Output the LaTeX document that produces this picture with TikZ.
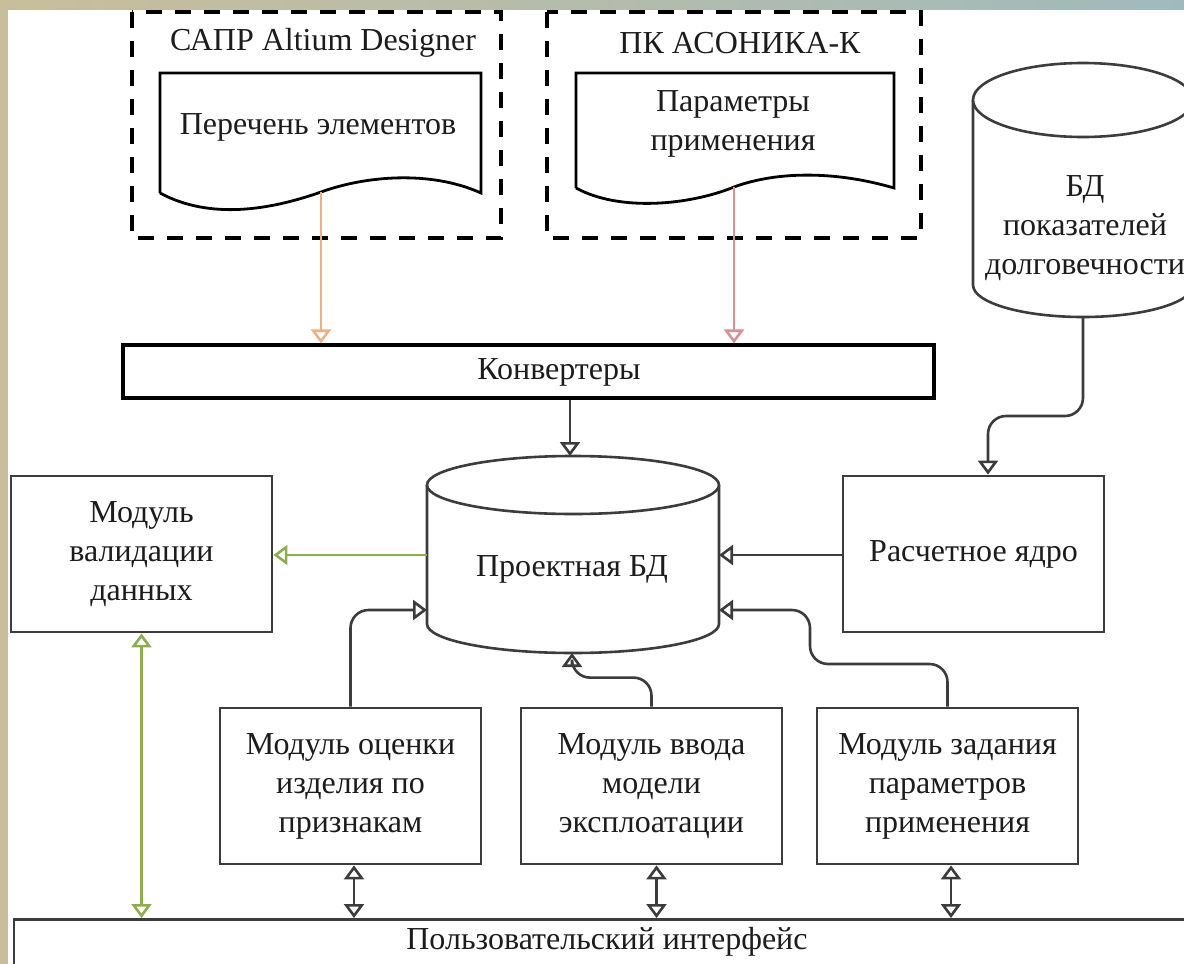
\documentclass[tikz,border=0pt]{standalone}
\usepackage{fontspec}
\setmainfont{Liberation Serif}
\usepackage{xcolor}
\usetikzlibrary{arrows.meta,positioning,calc}

\definecolor{linegray}{RGB}{60,60,60}
\definecolor{txtgray}{RGB}{28,28,28}
\definecolor{orangeln}{RGB}{236,176,134}
\definecolor{pinkln}{RGB}{212,146,146}
\definecolor{greenln}{RGB}{140,174,80}
\definecolor{bgleft}{RGB}{200,190,156}
\definecolor{bgright}{RGB}{160,186,188}

\begin{document}
\begin{tikzpicture}[x=0.5pt,y=-0.5pt,
	every node/.style={font=\fontsize{16}{19.5}\selectfont, text=txtgray, align=center, inner sep=0pt},
	box/.style={draw=linegray, line width=1.4pt, fill=white, minimum width=130.5pt, minimum height=78pt},
	dashbox/.style={draw=black, line width=1.6pt, dash pattern=on 8pt off 6.5pt},
	docshape/.style={draw=black, line width=1.4pt, fill=white},
	cylshape/.style={draw=linegray, line width=1.3pt, fill=white},
	link/.style={draw=linegray, line width=1.3pt, -{Triangle[open,length=7pt,width=10pt]}},
	dlink/.style={link, {Triangle[open,length=7pt,width=10pt]}-{Triangle[open,length=7pt,width=10pt]}}]
	\useasboundingbox (0,0) rectangle (1184,964);
	\clip (0,0) rectangle (1184,964);
	\shade[left color=bgleft, right color=bgright] (0,0) rectangle (1184,964);
	\fill[white] (8,10) rectangle (1184,964);
	% source systems
	\draw[dashbox] (132,12) rectangle (501,238);
	\draw[dashbox] (547,12) rectangle (921,238);
	\node (sapr) at (323,43) {САПР Altium Designer};
	\node (asonika) at (740,43) {ПК АСОНИКА-К};
	\draw[docshape] (160,193) -- (160,73) -- (481,73) -- (481,193) .. controls (430,170) and (365,176) .. (321,192) .. controls (270,210) and (210,220) .. (160,193);
	\draw[docshape] (576,188) -- (576,73) -- (894,73) -- (894,188) .. controls (840,172) and (780,170) .. (734,187) .. controls (690,205) and (620,212) .. (576,188);
	\coordinate (waveA) at (321,192);
	\coordinate (waveB) at (734,187);
	\node (perech) at (318,127) {Перечень элементов};
	\node (params) at (733,124) {Параметры\\применения};
	% databases
	\draw[cylshape] (973,100) -- (973,285) arc (180:0:110 and 32) -- (1193,100);
	\draw[cylshape] (1083,100) ellipse (110 and 37);
	\node (bdpok) at (1085,228) {БД\\показателей\\долговечности};
	\coordinate (bdbot) at (1083,317);
	\draw[cylshape] (427,485) -- (427,624) arc (180:0:146 and 29) -- (719,485);
	\draw[cylshape] (573,485) ellipse (146 and 29);
	\node (pbd) at (572,569) {Проектная БД};
	\coordinate (pbdtop) at (570,456);
	\coordinate (pbdbot) at (572,653);
	\coordinate (pbdW) at (427,555);
	\coordinate (pbdWlow) at (427,610);
	\coordinate (pbdE) at (719,555);
	\coordinate (pbdElow) at (719,610);
	% modules
	\node[box, draw=black, line width=1.6pt, minimum width=405.5pt, minimum height=26.5pt] (conv) at (528.5,371.5) {};
	\node (convtxt) at (559,372) {Конвертеры};
	\node[box] (valid) at (141.5,554) {Модуль\\валидации\\данных};
	\node[box] (core) at (973.5,554) {Расчетное ядро};
	\node[box] (eval) at (350.5,786) {Модуль оценки\\изделия по\\признакам};
	\node[box] (input) at (651.5,786) {Модуль ввода\\модели\\эксплоатации};
	\node[box] (param) at (947.5,786) {Модуль задания\\параметров\\применения};
	\node[draw=linegray, line width=1.4pt, fill=white, anchor=north, minimum width=593pt, inner ysep=4pt, text height=11pt, text depth=20pt] (ui) at (607,918) {Пользовательский интерфейс};
	% connectors
	\draw[link, draw=orangeln] (waveA) -- (waveA |- conv.north);
	\draw[link, draw=pinkln] (waveB) -- (waveB |- conv.north);
	\draw[link] (pbdtop |- conv.south) -- (pbdtop);
	\draw[link, draw=greenln] (pbdW) -- (valid.east |- pbdW);
	\draw[link] (core.west |- pbdE) -- (pbdE);
	\draw[link, rounded corners=9pt] (bdbot) -- (1083,416) -| ($(core.north)+(14.5,0)$);
	\draw[link, rounded corners=9pt] (eval.north) |- (pbdWlow);
	\draw[link, rounded corners=9pt] (input.north) -- ++(0,-29) -| (pbdbot);
	\draw[link, rounded corners=9pt] (param.north) |- (810,664) |- (pbdElow);
	\draw[dlink, draw=greenln] (valid.south) -- (valid.south |- ui.north);
	\draw[dlink] ($(eval.south)+(3.5,0)$) -- ($(eval.south |- ui.north)+(3.5,0)$);
	\draw[dlink] ($(input.south)+(5,0)$) -- ($(input.south |- ui.north)+(5,0)$);
	\draw[dlink] ($(param.south)+(3.5,0)$) -- ($(param.south |- ui.north)+(3.5,0)$);
\end{tikzpicture}
\end{document}
